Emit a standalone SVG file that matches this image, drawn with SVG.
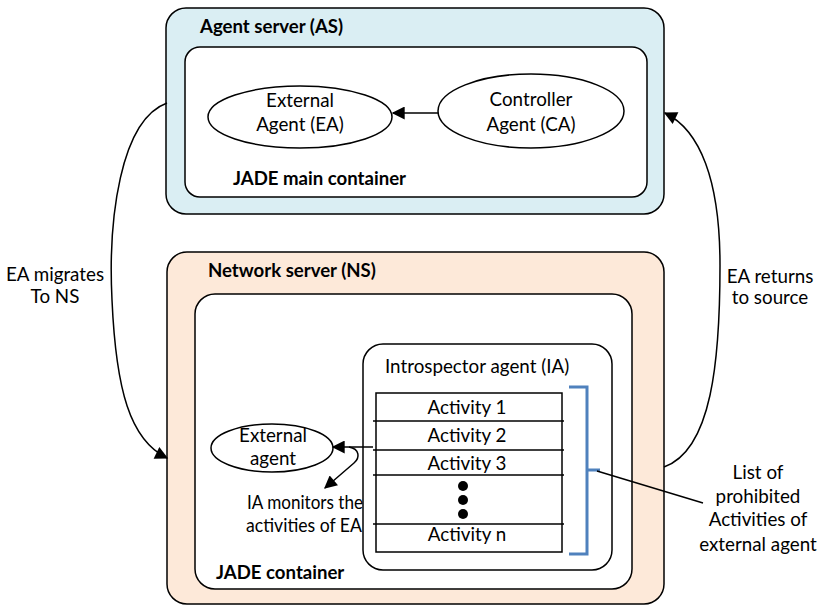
<svg xmlns="http://www.w3.org/2000/svg" width="821" height="606" viewBox="0 0 821 606">
<style>
text{font-family:Lato,"Open Sans","Liberation Sans",sans-serif;font-size:18.8px;fill:#000}
.b{font-weight:bold;font-size:18.6px}
.c{text-anchor:middle}
.box{stroke:#000;stroke-width:1.5}
.ln{fill:none;stroke:#000;stroke-width:1.5}
</style>
<defs>
<marker id="ahb" viewBox="0 0 10 10" refX="9" refY="5" markerWidth="14" markerHeight="13" markerUnits="userSpaceOnUse" orient="auto">
<path d="M0,0 L10,5 L0,10 z" fill="#000"/>
</marker>
</defs>

<g id="agent-server">
<rect class="box" x="166" y="8" width="498" height="206" rx="20" fill="#DAEEF3"/>
<text class="b" x="200" y="33">Agent server (AS)</text>
</g>
<g id="jade-main-container">
<rect class="box" x="185" y="47" width="462" height="150" rx="15" fill="#fff"/>
<text class="b" x="233" y="185">JADE main container</text>
</g>
<g id="external-agent-ea">
<ellipse class="box" cx="300" cy="117" rx="92" ry="31" fill="#fff"/>
<text class="c" x="300" y="107">External</text>
<text class="c" x="300" y="131">Agent (EA)</text>
</g>
<g id="controller-agent-ca">
<ellipse class="box" cx="531" cy="111" rx="93" ry="37" fill="#fff"/>
<text class="c" x="531" y="106">Controller</text>
<text class="c" x="531" y="131">Agent (CA)</text>
</g>

<g id="network-server">
<rect class="box" x="167" y="252" width="497" height="352" rx="20" fill="#FDE9D9"/>
<text class="b" x="208" y="277">Network server (NS)</text>
</g>
<g id="jade-container">
<rect class="box" x="195" y="294" width="437" height="295" rx="20" fill="#fff"/>
<text class="b" x="216" y="579">JADE container</text>
</g>
<g id="introspector-agent">
<rect class="box" x="363" y="344" width="249" height="226" rx="20" fill="#fff"/>
<text x="385" y="373">Introspector agent (IA)</text>
</g>
<g id="activity-list">
<rect class="box" x="376" y="393" width="186" height="159" fill="#fff"/>
<g class="ln">
<line x1="373" y1="421" x2="564" y2="421"/>
<line x1="373" y1="450" x2="564" y2="450"/>
<line x1="373" y1="475" x2="564" y2="475"/>
<line x1="373" y1="524" x2="564" y2="524"/>
</g>
<text class="c" x="467" y="414">Activity 1</text>
<text class="c" x="467" y="442">Activity 2</text>
<text class="c" x="467" y="470">Activity 3</text>
<circle cx="463" cy="486" r="5"/>
<circle cx="463" cy="500" r="5"/>
<circle cx="463" cy="514" r="5"/>
<text class="c" x="467" y="541">Activity n</text>
</g>
<g id="external-agent">
<ellipse class="box" cx="272" cy="448" rx="61" ry="24" fill="#fff"/>
<text class="c" x="273" y="442">External</text>
<text class="c" x="273" y="465">agent</text>
</g>
<g id="prohibited-bracket">
<path d="M569,387 H587 V554 H569 M587,470 H600" fill="none" stroke="#4F81BD" stroke-width="3"/>
</g>
<g id="labels">
<text class="c" x="305" y="509" textLength="116" lengthAdjust="spacingAndGlyphs">IA monitors the</text>
<text class="c" x="304" y="532" textLength="116" lengthAdjust="spacingAndGlyphs">activities of EA</text>
<text class="c" x="758" y="479">List of</text>
<text class="c" x="758" y="503">prohibited</text>
<text class="c" x="758" y="526">Activities of</text>
<text class="c" x="758" y="551">external agent</text>
<text class="c" x="55" y="281">EA migrates</text>
<text class="c" x="55" y="303">To NS</text>
<text class="c" x="770" y="283">EA returns</text>
<text class="c" x="770" y="304">to source</text>
</g>

<g id="connectors">
<line class="ln" x1="438" y1="113" x2="393" y2="113" marker-end="url(#ahb)"/>
<line class="ln" x1="373" y1="447" x2="333" y2="447" marker-end="url(#ahb)"/>
<path class="ln" d="M349,447 C360,449 360,458 354,463 L325,488" marker-end="url(#ahb)"/>
<line class="ln" x1="597" y1="471" x2="703" y2="503"/>
<path class="ln" d="M167,103 C120,120 108,220 112,300 C116,390 130,440 167,458" marker-end="url(#ahb)"/>
<path class="ln" d="M664,467 C712,450 720,360 720,265 C720,180 700,130 665,113" marker-end="url(#ahb)"/>
</g>
</svg>
